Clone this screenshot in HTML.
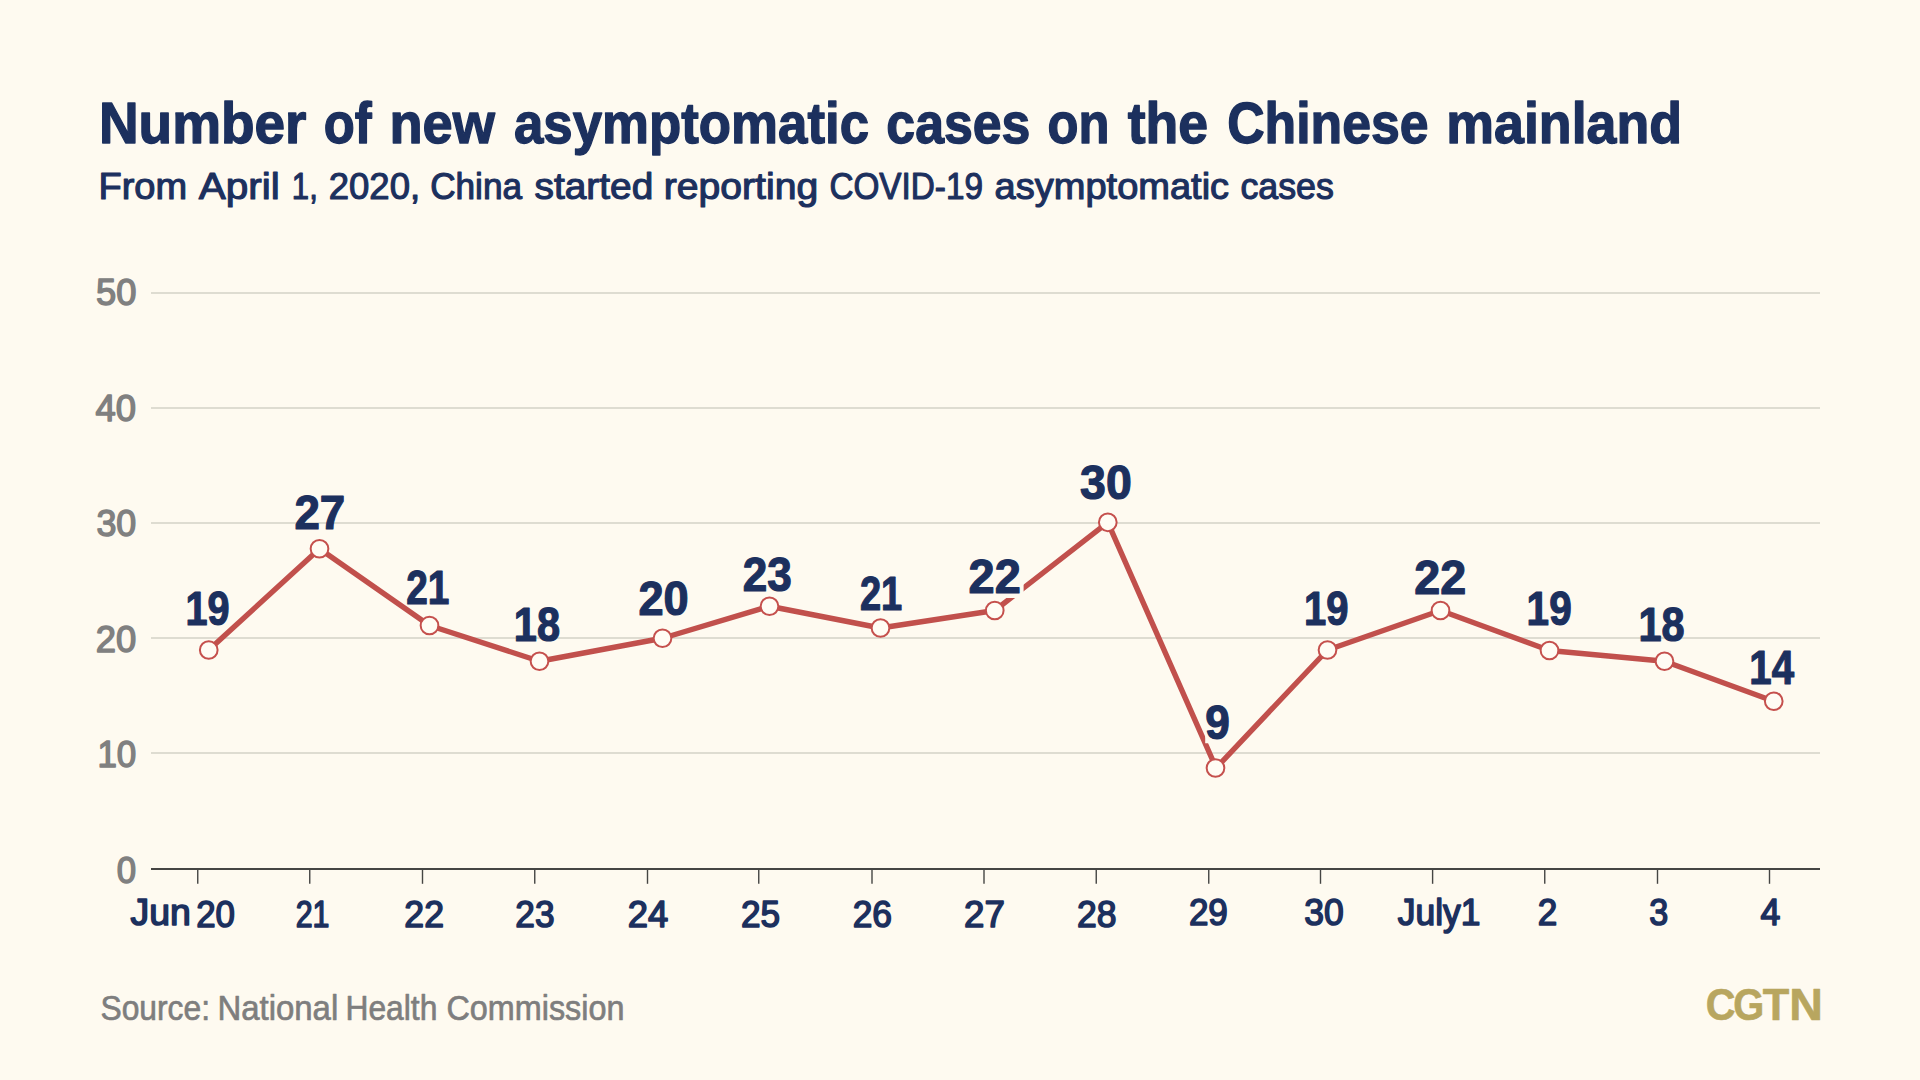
<!DOCTYPE html>
<html lang="en"><head><meta charset="utf-8"><title>Number of new asymptomatic cases on the Chinese mainland</title>
<style>html,body{margin:0;padding:0;background:#fefaf0;}body{width:1920px;height:1080px;overflow:hidden;}svg{display:block;}text{font-family:"Liberation Sans",sans-serif;}</style></head><body>
<svg width="1920" height="1080" viewBox="0 0 1920 1080">
<rect width="1920" height="1080" fill="#fefaf0"/>
<g stroke="#dedcd1" stroke-width="2">
<line x1="151" x2="1820" y1="293" y2="293"/>
<line x1="151" x2="1820" y1="408" y2="408"/>
<line x1="151" x2="1820" y1="523" y2="523"/>
<line x1="151" x2="1820" y1="638" y2="638"/>
<line x1="151" x2="1820" y1="753" y2="753"/>
</g>
<g stroke="#454543" stroke-width="1.8">
<line x1="151" x2="1820" y1="869" y2="869"/>
</g><g stroke="#454543" stroke-width="1.4">
<line x1="197.75" x2="197.75" y1="869" y2="883.8"/>
<line x1="309.75" x2="309.75" y1="869" y2="883.8"/>
<line x1="422.5" x2="422.5" y1="869" y2="883.8"/>
<line x1="534.75" x2="534.75" y1="869" y2="883.8"/>
<line x1="647.5" x2="647.5" y1="869" y2="883.8"/>
<line x1="758.75" x2="758.75" y1="869" y2="883.8"/>
<line x1="872" x2="872" y1="869" y2="883.8"/>
<line x1="984" x2="984" y1="869" y2="883.8"/>
<line x1="1096.25" x2="1096.25" y1="869" y2="883.8"/>
<line x1="1208.75" x2="1208.75" y1="869" y2="883.8"/>
<line x1="1320.5" x2="1320.5" y1="869" y2="883.8"/>
<line x1="1432.6" x2="1432.6" y1="869" y2="883.8"/>
<line x1="1544.75" x2="1544.75" y1="869" y2="883.8"/>
<line x1="1657.5" x2="1657.5" y1="869" y2="883.8"/>
<line x1="1769.5" x2="1769.5" y1="869" y2="883.8"/>
</g>
<polyline points="208.75,650 319.5,548.75 429.5,625.5 539.5,661.25 662.5,638.25 769.5,606.25 880.5,628 994.75,610.5 1107.8,522.3 1216.1,768 1327.5,650 1440.5,610.5 1549.5,650.5 1664.5,661.25 1773.75,701.25" fill="none" stroke="#c1504c" stroke-width="5.4" stroke-linejoin="round" stroke-linecap="round"/>
<path d="M965 555H1023.6V597.9H965Z M1205.2 735.2H1212V743.3H1205.2Z" fill="#fefaf0"/>
<text id="title" y="143.10" font-size="58.2" font-weight="bold" fill="#1c305e" stroke="#1c305e" stroke-width="1.4" stroke-linejoin="round"><tspan x="98.93" textLength="207.55" lengthAdjust="spacingAndGlyphs">Number</tspan> <tspan x="323.74" textLength="47.94" lengthAdjust="spacingAndGlyphs">of</tspan> <tspan x="389.45" textLength="105.40" lengthAdjust="spacingAndGlyphs">new</tspan> <tspan x="513.99" textLength="355.07" lengthAdjust="spacingAndGlyphs">asymptomatic</tspan> <tspan x="886.36" textLength="144.08" lengthAdjust="spacingAndGlyphs">cases</tspan> <tspan x="1047.57" textLength="61.90" lengthAdjust="spacingAndGlyphs">on</tspan> <tspan x="1127.75" textLength="80.35" lengthAdjust="spacingAndGlyphs">the</tspan> <tspan x="1227.14" textLength="201.45" lengthAdjust="spacingAndGlyphs">Chinese</tspan> <tspan x="1446.29" textLength="235.79" lengthAdjust="spacingAndGlyphs">mainland</tspan></text>
<text id="sub" y="198.70" font-size="36.8" font-weight="normal" fill="#1c305e" stroke="#1c305e" stroke-width="1.15" stroke-linejoin="round"><tspan x="98.44" textLength="88.72" lengthAdjust="spacingAndGlyphs">From</tspan> <tspan x="198.80" textLength="80.95" lengthAdjust="spacingAndGlyphs">April</tspan> <tspan x="291.86" textLength="25.94" lengthAdjust="spacingAndGlyphs">1,</tspan> <tspan x="328.77" textLength="91.34" lengthAdjust="spacingAndGlyphs">2020,</tspan> <tspan x="430.17" textLength="91.92" lengthAdjust="spacingAndGlyphs">China</tspan> <tspan x="534.51" textLength="118.80" lengthAdjust="spacingAndGlyphs">started</tspan> <tspan x="663.70" textLength="154.52" lengthAdjust="spacingAndGlyphs">reporting</tspan> <tspan x="829.45" textLength="153.51" lengthAdjust="spacingAndGlyphs">COVID-19</tspan> <tspan x="994.57" textLength="234.58" lengthAdjust="spacingAndGlyphs">asymptomatic</tspan> <tspan x="1240.41" textLength="93.53" lengthAdjust="spacingAndGlyphs">cases</tspan></text>
<g id="y" font-size="37.6" font-weight="normal" fill="#808080" stroke="#808080" stroke-width="1.5" stroke-linejoin="round">
<text x="95.98" y="305.20" textLength="40.39" lengthAdjust="spacingAndGlyphs">50</text>
<text x="95.57" y="420.70" textLength="40.55" lengthAdjust="spacingAndGlyphs">40</text>
<text x="96.41" y="536.20" textLength="39.86" lengthAdjust="spacingAndGlyphs">30</text>
<text x="95.86" y="651.70" textLength="40.50" lengthAdjust="spacingAndGlyphs">20</text>
<text x="97.42" y="767.20" textLength="38.92" lengthAdjust="spacingAndGlyphs">10</text>
<text x="116.79" y="882.80" textLength="19.37" lengthAdjust="spacingAndGlyphs">0</text>
</g>
<g id="x" font-size="37.6" font-weight="normal" fill="#1c305e" stroke="#1c305e" stroke-width="1.6" stroke-linejoin="round">
<text x="130.48" y="925.20" textLength="60.36" lengthAdjust="spacingAndGlyphs">Jun</text>
<text x="196.16" y="927.10" textLength="38.80" lengthAdjust="spacingAndGlyphs">20</text>
<text x="295.69" y="927.10" textLength="33.80" lengthAdjust="spacingAndGlyphs">21</text>
<text x="404.34" y="927.10" textLength="39.66" lengthAdjust="spacingAndGlyphs">22</text>
<text x="515.35" y="927.10" textLength="39.20" lengthAdjust="spacingAndGlyphs">23</text>
<text x="627.75" y="927.10" textLength="40.50" lengthAdjust="spacingAndGlyphs">24</text>
<text x="740.89" y="927.10" textLength="39.14" lengthAdjust="spacingAndGlyphs">25</text>
<text x="852.64" y="927.10" textLength="39.42" lengthAdjust="spacingAndGlyphs">26</text>
<text x="963.98" y="927.10" textLength="40.83" lengthAdjust="spacingAndGlyphs">27</text>
<text x="1077.09" y="927.10" textLength="39.54" lengthAdjust="spacingAndGlyphs">28</text>
<text x="1188.90" y="924.90" textLength="38.98" lengthAdjust="spacingAndGlyphs">29</text>
<text x="1304.22" y="924.90" textLength="39.48" lengthAdjust="spacingAndGlyphs">30</text>
<text x="1397.72" y="924.90" textLength="82.78" lengthAdjust="spacingAndGlyphs">July1</text>
<text x="1537.68" y="924.90" textLength="19.54" lengthAdjust="spacingAndGlyphs">2</text>
<text x="1649.31" y="924.90" textLength="19.01" lengthAdjust="spacingAndGlyphs">3</text>
<text x="1760.48" y="924.90" textLength="19.87" lengthAdjust="spacingAndGlyphs">4</text>
</g>
<g id="d" font-size="47.9" font-weight="bold" fill="#1c305e" stroke="#1c305e" stroke-width="1.2" stroke-linejoin="round">
<text x="185.52" y="625.20" textLength="44.14" lengthAdjust="spacingAndGlyphs">19</text>
<text x="294.45" y="529.45" textLength="50.82" lengthAdjust="spacingAndGlyphs">27</text>
<text x="406.14" y="603.70" textLength="43.17" lengthAdjust="spacingAndGlyphs">21</text>
<text x="513.87" y="641.20" textLength="46.21" lengthAdjust="spacingAndGlyphs">18</text>
<text x="638.48" y="615.20" textLength="50.27" lengthAdjust="spacingAndGlyphs">20</text>
<text x="742.85" y="591.45" textLength="49.05" lengthAdjust="spacingAndGlyphs">23</text>
<text x="859.88" y="610.20" textLength="42.36" lengthAdjust="spacingAndGlyphs">21</text>
<text x="968.61" y="593.20" textLength="52.21" lengthAdjust="spacingAndGlyphs">22</text>
<text x="1080.08" y="499.45" textLength="51.68" lengthAdjust="spacingAndGlyphs">30</text>
<text x="1205.36" y="739.45" textLength="24.56" lengthAdjust="spacingAndGlyphs">9</text>
<text x="1303.95" y="625.45" textLength="44.55" lengthAdjust="spacingAndGlyphs">19</text>
<text x="1414.36" y="593.70" textLength="51.94" lengthAdjust="spacingAndGlyphs">22</text>
<text x="1526.61" y="625.45" textLength="45.05" lengthAdjust="spacingAndGlyphs">19</text>
<text x="1638.43" y="641.20" textLength="46.08" lengthAdjust="spacingAndGlyphs">18</text>
<text x="1749.34" y="684.45" textLength="44.76" lengthAdjust="spacingAndGlyphs">14</text>
</g>
<text id="src" y="1020.00" font-size="35.6" font-weight="normal" fill="#7e7e7e" stroke="#7e7e7e" stroke-width="0.7" stroke-linejoin="round"><tspan x="100.44" textLength="109.53" lengthAdjust="spacingAndGlyphs">Source:</tspan> <tspan x="217.44" textLength="120.81" lengthAdjust="spacingAndGlyphs">National</tspan> <tspan x="345.44" textLength="91.89" lengthAdjust="spacingAndGlyphs">Health</tspan> <tspan x="446.51" textLength="177.86" lengthAdjust="spacingAndGlyphs">Commission</tspan></text>
<text id="logo" y="1019.80" font-size="43.9" font-weight="bold" fill="#b8a65f" stroke="#b8a65f" stroke-width="0.6" stroke-linejoin="round"><tspan x="1705.64" textLength="29.74" lengthAdjust="spacingAndGlyphs">C</tspan><tspan x="1733.26" textLength="31.00" lengthAdjust="spacingAndGlyphs">G</tspan><tspan x="1762.73" textLength="26.51" lengthAdjust="spacingAndGlyphs">T</tspan><tspan x="1789.24" textLength="33.66" lengthAdjust="spacingAndGlyphs">N</tspan></text>
<g fill="#fffcf4" stroke="#c5504d" stroke-width="2">
<circle cx="208.75" cy="650" r="8.85"/>
<circle cx="319.5" cy="548.75" r="8.85"/>
<circle cx="429.5" cy="625.5" r="8.85"/>
<circle cx="539.5" cy="661.25" r="8.85"/>
<circle cx="662.5" cy="638.25" r="8.85"/>
<circle cx="769.5" cy="606.25" r="8.85"/>
<circle cx="880.5" cy="628" r="8.85"/>
<circle cx="994.75" cy="610.5" r="8.85"/>
<circle cx="1107.8" cy="522.3" r="8.85"/>
<circle cx="1215.5" cy="768" r="8.85"/>
<circle cx="1327.5" cy="650" r="8.85"/>
<circle cx="1440.5" cy="610.5" r="8.85"/>
<circle cx="1549.5" cy="650.5" r="8.85"/>
<circle cx="1664.5" cy="661.25" r="8.85"/>
<circle cx="1773.75" cy="701.25" r="8.85"/>
</g>
</svg></body></html>
